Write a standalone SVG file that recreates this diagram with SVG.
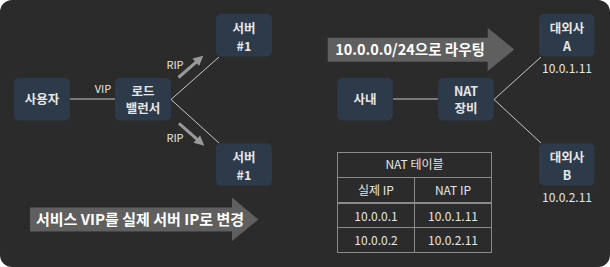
<svg xmlns="http://www.w3.org/2000/svg" width="610" height="267" viewBox="0 0 610 267">
<style>
.bg{fill:#2b2b2b}
.node rect{fill:#2d3a4a}
.node text{fill:#e6e6e6;font-family:"Noto Sans CJK KR","Noto Sans",sans-serif;font-size:12.5px;font-weight:bold;text-anchor:middle}
.conn line{stroke:#c8c8c8;stroke-width:1}
.conn .rip{stroke:#9a9a9a;stroke-width:3}
.conn polygon{fill:#9a9a9a}
.lbl{fill:#e6e6e6;font-family:"Noto Sans CJK KR","Noto Sans",sans-serif;font-size:11px;text-anchor:middle}
.ip{fill:#e6e6e6;font-family:"Noto Sans CJK KR","Noto Sans",sans-serif;font-size:12px;text-anchor:middle}
.big{fill:#5f5f5f}
.bigt{fill:#ffffff;font-family:"Noto Sans CJK KR","Noto Sans",sans-serif;font-size:15px;font-weight:bold;text-anchor:middle}
.tbl rect,.tbl line{stroke:#8a8a8a;stroke-width:1;fill:none}
.tbl text{fill:#e6e6e6;font-family:"Noto Sans CJK KR","Noto Sans",sans-serif;font-size:12px;text-anchor:middle}
</style>
<rect class="bg" x="0" y="0" width="610" height="267" rx="12"/>

<g id="connectors" class="conn">
<line x1="70" y1="99" x2="115" y2="99"/>
<line x1="171" y1="99.5" x2="219" y2="57"/>
<line x1="171" y1="99.5" x2="219" y2="143"/>
<line x1="393" y1="99" x2="438" y2="99"/>
<line x1="494" y1="99.5" x2="541" y2="57"/>
<line x1="494" y1="99.5" x2="541" y2="143"/>
<text class="lbl" x="103" y="93">VIP</text>
<text class="lbl" x="175" y="68.5">RIP</text>
<text class="lbl" x="175" y="142">RIP</text>
<line class="rip" x1="178.5" y1="77.5" x2="197" y2="61.3"/>
<polygon points="203.3,55.7 199.1,66.1 192.5,58.5"/>
<line class="rip" x1="179" y1="123.3" x2="198" y2="140.1"/>
<polygon points="204.3,145.7 193.5,142.8 200.1,135.4"/>
</g>

<g id="user" class="node"><rect x="14" y="78" width="56" height="42.5" rx="5"/><text x="42" y="104">사용자</text></g>
<g id="lb" class="node"><rect x="115" y="78" width="56" height="42.5" rx="5"/><text x="143" y="95.5">로드</text><text x="143" y="113">밸런서</text></g>
<g id="server1" class="node"><rect x="216" y="14" width="56" height="42.5" rx="5"/><text x="244" y="33">서버</text><text x="244" y="50.5">#1</text></g>
<g id="server2" class="node"><rect x="216" y="143.3" width="56" height="42.5" rx="5"/><text x="244" y="162.3">서버</text><text x="244" y="179.8">#1</text></g>

<g id="arrow-vip">
<polygon class="big" points="30,207.5 232,207.5 232,197.5 258.5,219.5 232,241 232,231.5 30,231.5"/>
<text class="bigt" x="140" y="225">서비스 VIP를 실제 서버 IP로 변경</text>
</g>

<g id="inner" class="node"><rect x="337.3" y="78" width="55.5" height="42.5" rx="5"/><text x="365" y="104">사내</text></g>
<g id="nat" class="node"><rect x="438.3" y="78" width="55.5" height="42.5" rx="5"/><text x="466" y="95.5">NAT</text><text x="466" y="113">장비</text></g>
<g id="extA" class="node"><rect x="539" y="14" width="55.5" height="42.5" rx="5"/><text x="567" y="33">대외사</text><text x="567" y="50.5">A</text></g>
<text class="ip" x="567" y="72.5">10.0.1.11</text>
<g id="extB" class="node"><rect x="539" y="143.3" width="55.5" height="42.5" rx="5"/><text x="567" y="162.3">대외사</text><text x="567" y="179.8">B</text></g>
<text class="ip" x="567" y="201.5">10.0.2.11</text>

<g id="arrow-route">
<polygon class="big" points="327.7,37.7 487.7,37.7 487.7,27.7 514.3,49.5 487.7,71 487.7,61.7 327.7,61.7"/>
<text class="bigt" x="410" y="55" style="font-size:14.5px">10.0.0.0/24으로 라우팅</text>
</g>

<g id="nat-table" class="tbl">
<rect x="337.5" y="152.5" width="154" height="100"/>
<line x1="337.5" y1="177.5" x2="491.5" y2="177.5"/>
<line x1="337.5" y1="203" x2="491.5" y2="203" style="stroke-width:2"/>
<line x1="337.5" y1="227.5" x2="491.5" y2="227.5"/>
<line x1="414.5" y1="177.5" x2="414.5" y2="252.5"/>
<text x="414.5" y="169">NAT 테이블</text>
<text x="376" y="195">실제 IP</text>
<text x="453" y="195">NAT IP</text>
<text x="376" y="220.5">10.0.0.1</text>
<text x="453" y="220.5">10.0.1.11</text>
<text x="376" y="245">10.0.0.2</text>
<text x="453" y="245">10.0.2.11</text>
</g>
</svg>
